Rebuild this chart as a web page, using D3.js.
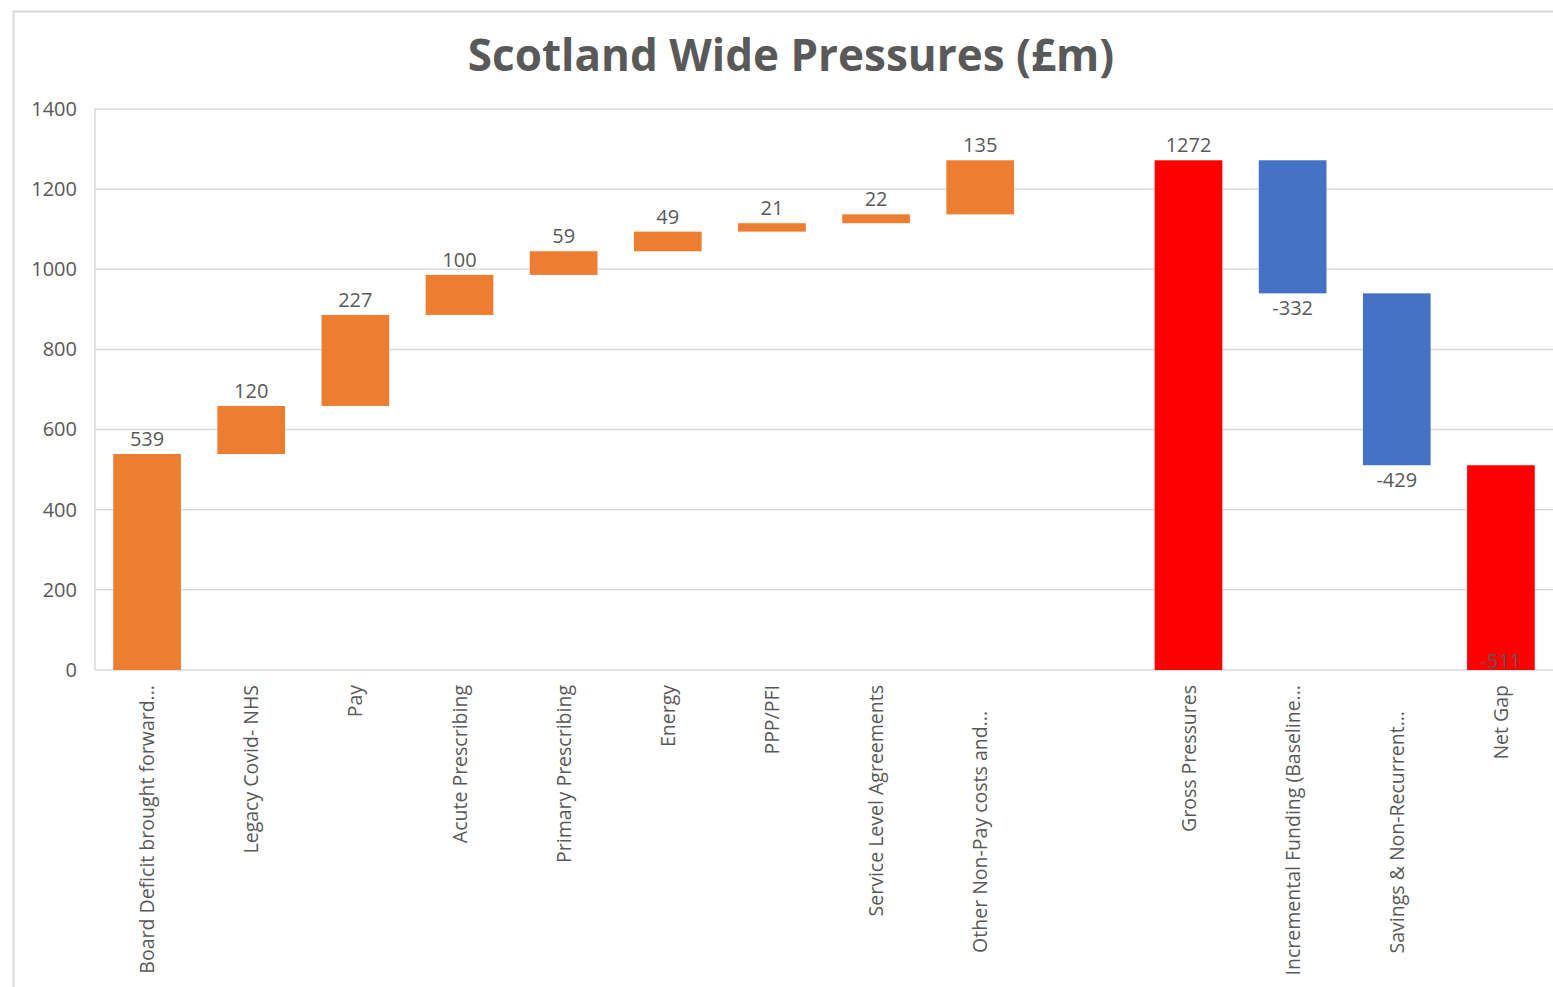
<!DOCTYPE html>
<html>
<head>
<meta charset="utf-8">
<script src="https://cdn.jsdelivr.net/npm/d3@7"></script>
<style>
  body { margin: 0; background: #fff; }
  text { font-family: "Open Sans", "Noto Sans", sans-serif; }
</style>
</head>
<body>
<div id="chart"></div>
<script>
// chart data
const categories = ["Board Deficit brought forward...", "Legacy Covid- NHS", "Pay", "Acute Prescribing",
  "Primary Prescribing", "Energy", "PPP/PFI", "Service Level Agreements", "Other Non-Pay costs and...",
  "", "Gross Pressures", "Incremental Funding (Baseline...", "Savings & Non-Recurrent...", "Net Gap"];
const values = [539, 120, 227, 100, 59, 49, 21, 22, 135, null, 1272, -332, -429, -511];
// step = change to running total, total = bar from zero
const kinds = ["step", "step", "step", "step", "step", "step", "step", "step", "step", "blank",
  "total", "step", "step", "total"];
const yTicks = [0, 200, 400, 600, 800, 1000, 1200, 1400];

const width = 1553, height = 987;
const margin = {top: 109, right: 0, bottom: 317, left: 95};

const svg = d3.select("#chart").append("svg")
  .attr("width", width)
  .attr("height", height);

// outer chart border
svg.append("rect")
  .attr("x", 13.5).attr("y", 11.5)
  .attr("width", width + 10).attr("height", height + 10)
  .attr("fill", "none")
  .attr("stroke", "#d9d9d9")
  .attr("stroke-width", 2);

svg.append("text")
  .attr("x", 791).attr("y", 71)
  .attr("text-anchor", "middle")
  .style("font-size", "44px")
  .style("font-weight", "bold")
  .style("fill", "#595959")
  .text("Scotland Wide Pressures (£m)");

const x = d3.scaleBand()
  .domain(d3.range(categories.length))
  .range([margin.left, width - margin.right])
  .paddingInner(0.35)
  .paddingOuter(0.175);

const y = d3.scaleLinear()
  .domain([0, 1400])
  .range([height - margin.bottom, margin.top]);

// running totals for the waterfall
let running = 0;
const bars = [];
values.forEach((v, i) => {
  if (kinds[i] === "blank") return;
  let lo, hi;
  if (kinds[i] === "total") {
    lo = 0; hi = running;
  } else {
    const start = running;
    running += v;
    lo = Math.min(start, running); hi = Math.max(start, running);
  }
  let color;
  if (kinds[i] === "total") color = "#ff0000";
  else if (v < 0) color = "#4472c4";
  else color = "#ed7d31";
  bars.push({i: i, v: v, lo: lo, hi: hi, kind: kinds[i], color: color});
});

// gridlines
svg.append("g")
  .selectAll("line")
  .data(yTicks)
  .join("line")
    .attr("x1", margin.left).attr("x2", width)
    .attr("y1", d => y(d)).attr("y2", d => y(d))
    .attr("stroke", "#d9d9d9")
    .attr("stroke-width", 1.5);

svg.append("line")
  .attr("x1", margin.left).attr("x2", margin.left)
  .attr("y1", y(1400)).attr("y2", y(0))
  .attr("stroke", "#d9d9d9")
  .attr("stroke-width", 1.5);

// y axis labels
const yAxis = d3.axisLeft(y).tickValues(yTicks).tickFormat(d3.format("d")).tickSize(0).tickPadding(18);
svg.append("g")
  .attr("transform", `translate(${margin.left},0)`)
  .call(yAxis)
  .call(g => g.select(".domain").remove())
  .selectAll("text")
    .style("font-family", "'Open Sans', sans-serif")
    .style("font-size", "20px")
    .style("fill", "#595959");

// bars
svg.append("g")
  .selectAll("rect")
  .data(bars)
  .join("rect")
    .attr("x", d => x(d.i))
    .attr("width", x.bandwidth())
    .attr("y", d => y(d.hi))
    .attr("height", d => y(d.lo) - y(d.hi))
    .attr("fill", d => d.color);

// value labels
svg.append("g")
  .selectAll("text")
  .data(bars)
  .join("text")
    .attr("x", d => x(d.i) + x.bandwidth() / 2)
    .attr("y", d => {
      if (d.kind === "total" && d.v < 0) return y(0) - 2;
      if (d.v < 0) return y(d.lo) + 22;
      return y(d.hi) - 8;
    })
    .attr("text-anchor", "middle")
    .style("font-size", "20px")
    .style("fill", "#595959")
    .text(d => d.v);

// category labels, rotated (two truncated ones sit a bit lower, as in Excel)
const dropped = {8: 26, 12: 26};
svg.append("g")
  .selectAll("text")
  .data(categories)
  .join("text")
    .attr("transform", (d, i) => `translate(${x(i) + x.bandwidth() / 2 + 7},${y(0) + 15 + (dropped[i] || 0)}) rotate(-90)`)
    .attr("text-anchor", "end")
    .style("font-size", "19.5px")
    .style("fill", "#595959")
    .text(d => d);
</script>
</body>
</html>
